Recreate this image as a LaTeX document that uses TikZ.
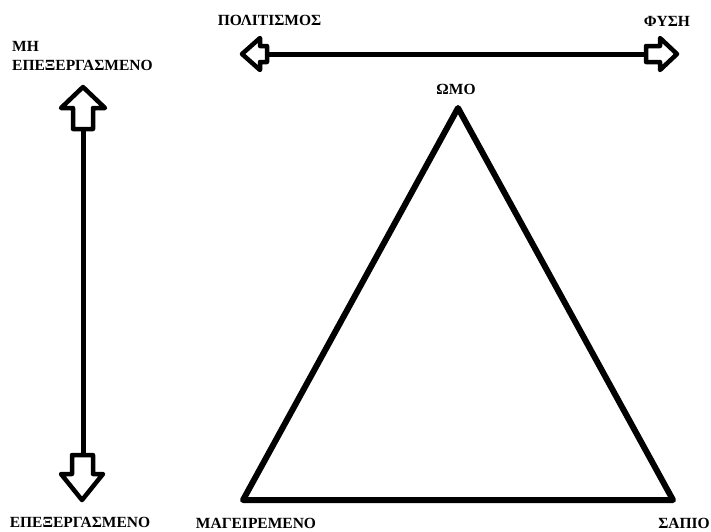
\documentclass[tikz,border=0pt]{standalone}
\usepackage{fontspec}
\setmainfont{Liberation Serif}
\begin{document}
\begin{tikzpicture}[x=1pt,y=-1pt,
  lbl/.style={inner sep=0pt,font=\bfseries\fontsize{15.5}{19}\selectfont},
  shaft/.style={line width=5pt},
  blockarrow/.style={line width=4.5pt,line join=round},
  tri/.style={line width=6pt,line join=round}]
\useasboundingbox (0,0) rectangle (711,531);
% coordinates
\coordinate (lstub) at (266,54);
\coordinate (rstub) at (647,54);
\coordinate (ustub) at (83,128);
\coordinate (dstub) at (83,456);
\coordinate (apex) at (458,108);
\coordinate (bl) at (243,500);
\coordinate (br) at (673,500);
% labels
\node[lbl] (polit) at (269.5,20) {ΠΟΛΙΤΙΣΜΟΣ};
\node[lbl] (fysi) at (667,21) {ΦΥΣΗ};
\node[lbl,align=left,anchor=north west] (mhep) at (12,41) {ΜΗ\\ΕΠΕΞΕΡΓΑΣΜΕΝΟ};
\node[lbl] (omo) at (456,89) {ΩΜΟ};
\node[lbl] (epex) at (80,522) {ΕΠΕΞΕΡΓΑΣΜΕΝΟ};
\node[lbl] (mag) at (256,523) {ΜΑΓΕΙΡΕΜΕΝΟ};
\node[lbl] (sapio) at (684,523) {ΣΑΠΙΟ};
% horizontal double arrow
\draw[shaft] (lstub) -- (rstub);
\draw[blockarrow] (242,54) -- (260,38) -- (260,46) -- (267,46) -- (267,62) -- (260,62) -- (260,70) -- cycle;
\draw[blockarrow] (646,46) -- (660,46) -- (660,38) -- (677,54) -- (660,70) -- (660,62) -- (646,62) -- cycle;
% vertical double arrow
\draw[shaft] (ustub) -- (dstub);
\draw[blockarrow] (83,87) -- (105,108) -- (93,108) -- (93,129) -- (73,129) -- (73,108) -- (61,108) -- cycle;
\draw[blockarrow] (72,455) -- (93,455) -- (93,474) -- (103,474) -- (82,500) -- (61,474) -- (72,474) -- cycle;
% triangle
\draw[tri] (apex) -- (br) -- (bl) -- cycle;
\end{tikzpicture}
\end{document}
